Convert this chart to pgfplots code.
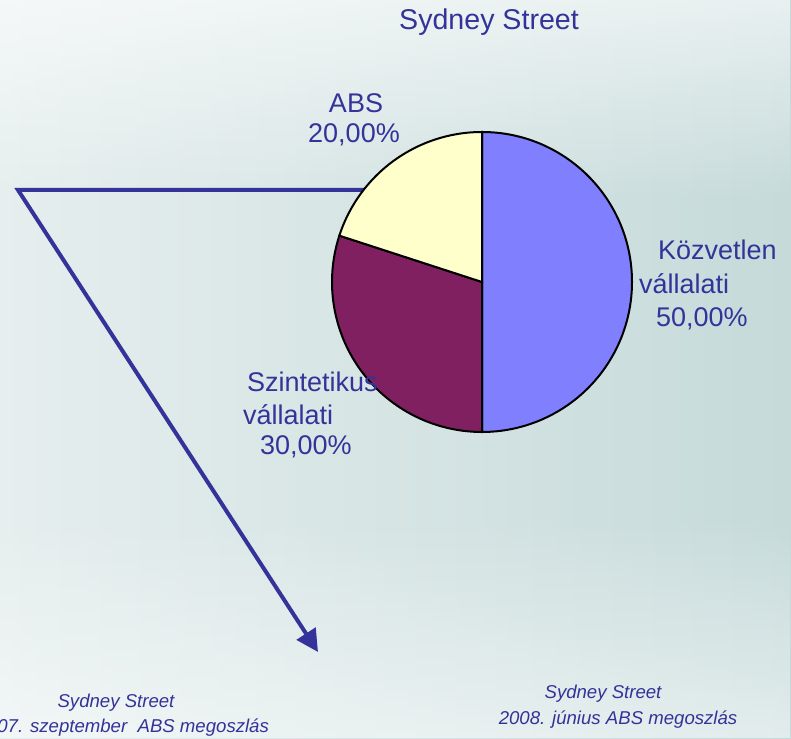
\documentclass[border=0pt]{standalone}
\usepackage{pgfplots}
\pgfplotsset{compat=1.18}
\usepackage{pgfplotstable}
\usetikzlibrary{arrows.meta,fadings}
\usepackage{fontspec}
\setmainfont{Liberation Sans}

\definecolor{txtblue}{HTML}{333399}
\definecolor{pieA}{HTML}{8080FF}
\definecolor{pieB}{HTML}{802060}
\definecolor{pieC}{HTML}{FFFFCC}
\definecolor{bgL}{HTML}{E6EEEE}
\definecolor{bgR}{HTML}{C6DADA}

\tikzfading[name=fadedown, top color=transparent!0, bottom color=transparent!100]
\tikzfading[name=fadeup, top color=transparent!100, bottom color=transparent!0]

% pie shares (per cent)
\pgfplotstableread{
label value
Kozvetlen 50
Szintetikus 30
ABS 20
}\piedata
\pgfplotstablegetelem{0}{value}\of\piedata \let\va\pgfplotsretval
\pgfplotstablegetelem{1}{value}\of\piedata \let\vb\pgfplotsretval
\pgfplotstablegetelem{2}{value}\of\piedata \let\vc\pgfplotsretval
\pgfmathsetmacro\aA{90}
\pgfmathsetmacro\aB{\aA-3.6*\va}
\pgfmathsetmacro\aC{\aB-3.6*\vb}
\pgfmathsetmacro\aD{\aC-3.6*\vc}

\newcommand\lbl{\fontsize{13.5}{16}\selectfont}
\newcommand\foot{\fontsize{9.3}{11}\selectfont\itshape}

\begin{document}
\begin{tikzpicture}
\begin{axis}[
  x=0.5pt, y=0.5pt,
  xmin=0, xmax=791, ymin=0, ymax=738,
  scale only axis, hide axis, clip=false,
]
% background
\shade[left color=bgL, right color=bgR] (axis cs:0,0) rectangle (axis cs:791,738);
\fill[white, opacity=0.6, path fading=fadedown] (axis cs:0,538) rectangle (axis cs:791,738);
\fill[white, opacity=0.5, path fading=fadeup] (axis cs:0,0) rectangle (axis cs:791,220);

% arrow behind the pie
\addplot[line width=2pt, color=txtblue, miter limit=20,
  -{Triangle[length=11pt, width=11pt]}]
  coordinates {(370,548) (18,548) (318,86)};

% pie
\filldraw[fill=pieA, draw=black, line width=1pt] (axis cs:482,456) -- ++(\aA:75pt)
  arc[start angle=\aA, end angle=\aB, radius=75pt] -- cycle;
\filldraw[fill=pieB, draw=black, line width=1pt] (axis cs:482,456) -- ++(\aB:75pt)
  arc[start angle=\aB, end angle=\aC, radius=75pt] -- cycle;
\filldraw[fill=pieC, draw=black, line width=1pt] (axis cs:482,456) -- ++(\aC:75pt)
  arc[start angle=\aC, end angle=\aD, radius=75pt] -- cycle;

% labels
\node[text=txtblue, font=\fontsize{14.3}{16}\selectfont] at (axis cs:489,716) {Sydney Street};
\node[text=txtblue, font=\lbl] at (axis cs:356,635) {ABS};
\node[text=txtblue, font=\lbl] at (axis cs:354,603) {20,00\%};
\node[text=txtblue, font=\lbl, anchor=west] at (axis cs:651,488) {Közvetlen};
\node[text=txtblue, font=\lbl, anchor=west] at (axis cs:632,454) {vállalati};
\node[text=txtblue, font=\lbl, anchor=west] at (axis cs:649,419) {50,00\%};
\node[text=txtblue, font=\lbl, anchor=west] at (axis cs:240,356) {Szintetikus};
\node[text=txtblue, font=\lbl, anchor=west] at (axis cs:236,323) {vállalati};
\node[text=txtblue, font=\lbl, anchor=west] at (axis cs:253,291) {30,00\%};

\node[text=txtblue, font=\foot] at (axis cs:116,35) {Sydney Street};
\node[text=txtblue, font=\foot, anchor=east] at (axis cs:276,10) {2007. szeptember\ \ ABS megoszlás};
\node[text=txtblue, font=\foot] at (axis cs:603,44) {Sydney Street};
\node[text=txtblue, font=\foot] at (axis cs:618,18) {2008. június ABS megoszlás};
\end{axis}
\pgfresetboundingbox
\path (current axis.south west) rectangle (current axis.north east);
\end{tikzpicture}
\end{document}
